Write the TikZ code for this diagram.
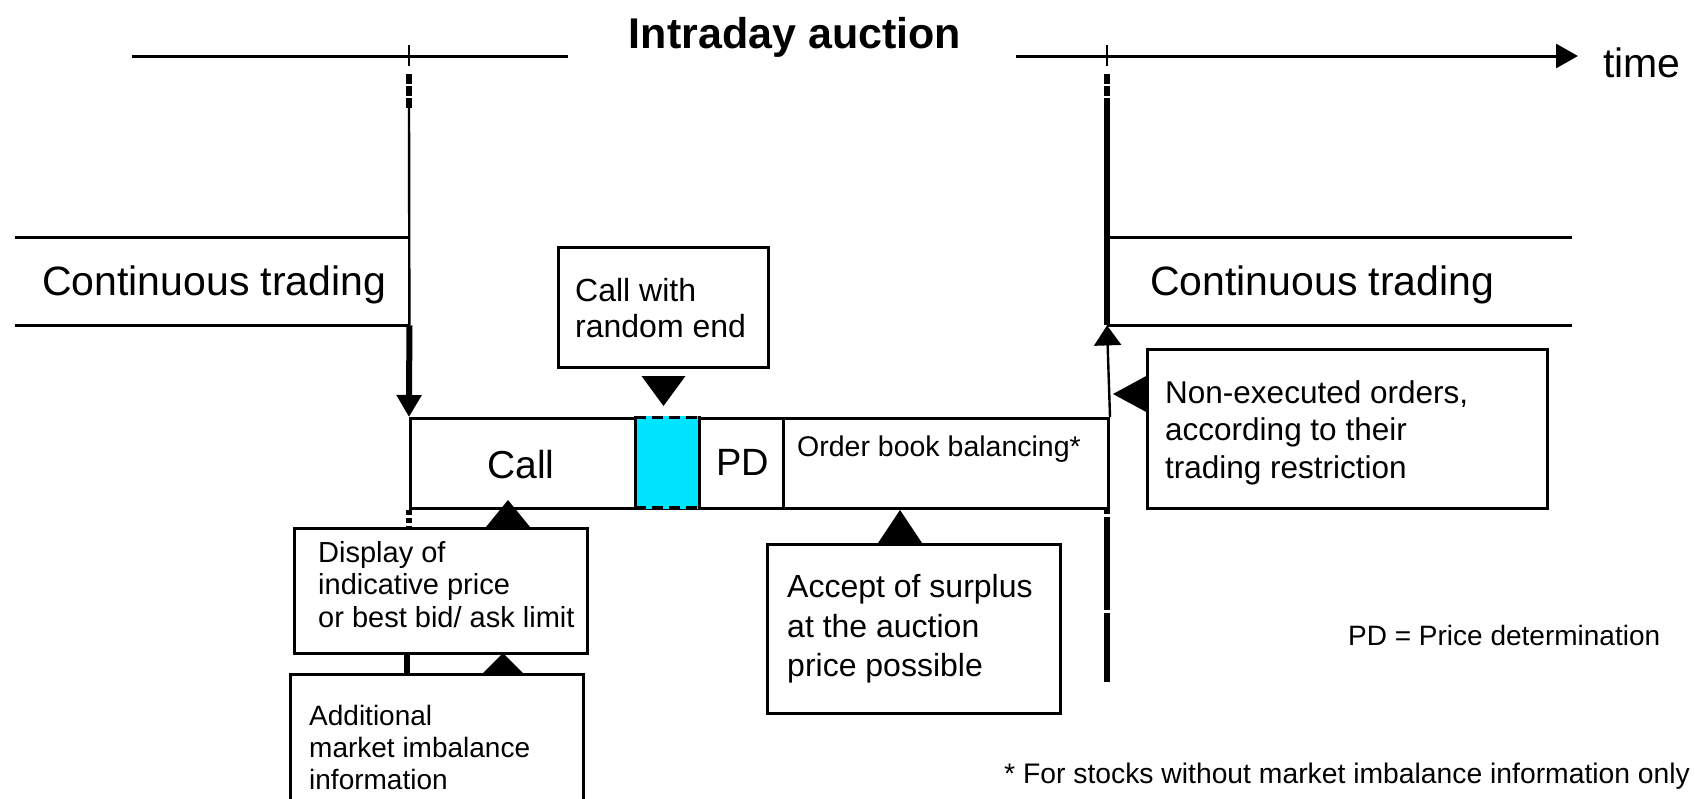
\documentclass[tikz,border=0pt]{standalone}
\usepackage{fontspec}
\setmainfont{Liberation Sans}
\usetikzlibrary{arrows.meta,calc}
\definecolor{auctioncyan}{RGB}{0,229,255}

\begin{document}
\begin{tikzpicture}[x=1pt,y=-1pt,
  frame/.style={draw, line width=3pt, inner sep=0pt, anchor=north west},
  band/.style={inner sep=0pt, anchor=north west, minimum height=88pt},
  txt/.style={inner sep=0pt, anchor=base west},
  blocktxt/.style={inner sep=0pt, anchor=north west, align=left},
  thinrule/.style={line width=2.4pt},
  thickrule/.style={line width=6pt},
  axisline/.style={line width=3pt},
  wedge/.style={fill=black},
]
\useasboundingbox (0,0) rectangle (1695,798);

% time axis and title
\coordinate (axL) at (132,56);
\coordinate (axM) at (568,56);
\coordinate (axR) at (1016,56);
\coordinate (axE) at (1578,56);
\draw[axisline] (axL) -- (axM);
\draw[axisline,-{Triangle[length=22pt,width=24pt]}] (axR) -- (axE);
\node[inner sep=0pt, anchor=base, font=\bfseries\fontsize{43pt}{43pt}\selectfont] (title) at (795,48) {Intraday auction};
\node[txt, font=\fontsize{41pt}{41pt}\selectfont] (time) at (1603,77) {time};

% continuous trading phases
\node[band, minimum width=394pt] (ctL) at (15,237) {};
\node[band, minimum width=465pt] (ctR) at (1107,237) {};
\draw[axisline] (ctL.north west) -- (ctL.north east);
\draw[axisline] (ctL.south west) -- (ctL.south east);
\draw[axisline] (ctR.north west) -- (ctR.north east);
\draw[axisline] (ctR.south west) -- (ctR.south east);
\node[txt, font=\fontsize{41pt}{41pt}\selectfont] (ctLtext) at (42,295) {Continuous trading};
\node[txt, font=\fontsize{41pt}{41pt}\selectfont] (ctRtext) at (1150,295) {Continuous trading};

% auction bar
\node[frame, minimum width=698pt, minimum height=90pt] (bar) at (409,417) {};
\node[fill=auctioncyan, inner sep=0pt, anchor=north west, minimum width=64pt, minimum height=93pt] (rnd) at (635,415.5) {};
\draw[line width=3pt] (rnd.north west) -- (rnd.south west);
\draw[line width=3pt] (rnd.north east) -- (rnd.south east);
\draw[line width=3pt, dash pattern=on 11pt off 6pt] ($(rnd.north west)+(0,1.5)$) -- ($(rnd.north east)+(0,1.5)$);
\draw[line width=3pt, dash pattern=on 11pt off 6pt] ($(rnd.south west)+(0,-1.5)$) -- ($(rnd.south east)+(0,-1.5)$);
\coordinate (pdsplit) at (783,417);
\draw[line width=3pt] (pdsplit) -- (pdsplit |- bar.south);
\node[inner sep=0pt, anchor=base, font=\fontsize{39pt}{39pt}\selectfont] (calltext) at (521,478) {Call};
\node[inner sep=0pt, anchor=base, font=\fontsize{38pt}{38pt}\selectfont] (pdtext) at (743,475) {PD};
\node[txt, font=\fontsize{28.5pt}{28.5pt}\selectfont] (obbtext) at (797,456) {Order book balancing*};

% annotation boxes
\node[frame, minimum width=210pt, minimum height=120pt] (crand) at (557,246) {};
\node[blocktxt, font=\fontsize{32pt}{36pt}\selectfont] (crandtext) at (575,278.6) {Call with\\random end};

\node[frame, minimum width=293pt, minimum height=125pt] (disp) at (293,527) {};
\node[blocktxt, font=\fontsize{29pt}{32.5pt}\selectfont] (disptext) at (318,540.8) {Display of\\indicative price\\or best bid/ ask limit};

\node[frame, minimum width=293pt, minimum height=150pt] (addl) at (289,673) {};
\node[blocktxt, font=\fontsize{28pt}{32pt}\selectfont] (addltext) at (309,704.6) {Additional\\market imbalance\\information};

\node[frame, minimum width=293pt, minimum height=169pt] (acc) at (766,543) {};
\node[blocktxt, font=\fontsize{32pt}{39.5pt}\selectfont] (acctext) at (787,574.6) {Accept of surplus\\at the auction\\price possible};

\node[frame, minimum width=400pt, minimum height=159pt] (nonex) at (1146,348) {};
\node[blocktxt, font=\fontsize{31.5pt}{37.5pt}\selectfont] (nonextext) at (1165,380) {Non-executed orders,\\according to their\\trading restriction};

% legend and footnote
\node[txt, font=\fontsize{28pt}{28pt}\selectfont] (legend) at (1348,645) {PD = Price determination};
\node[txt, font=\fontsize{28.3pt}{28.3pt}\selectfont] (note) at (1004,783) {* For stocks without market imbalance information only};

% pointers onto the auction bar
\fill[wedge] ($(crand.south)+(-22,7)$) -- ($(crand.south)+(22,7)$) -- ($(crand.south)+(0,37)$) -- cycle;
\coordinate (dispPt) at (508,527);
\fill[wedge] ($(dispPt)+(-22,0)$) -- ($(dispPt)+(22,0)$) -- ($(dispPt)+(0,-27)$) -- cycle;
\coordinate (addlPt) at (503,673);
\fill[wedge] ($(addlPt)+(-20,0)$) -- ($(addlPt)+(20,0)$) -- ($(addlPt)+(0,-20)$) -- cycle;
\coordinate (accPt) at (900,543);
\fill[wedge] ($(accPt)+(-22,0)$) -- ($(accPt)+(22,0)$) -- ($(accPt)+(0,-33)$) -- cycle;
\coordinate (nonexPt) at (1148,394);
\fill[wedge] ($(nonexPt)+(0,-19)$) -- ($(nonexPt)+(0,19)$) -- ($(nonexPt)+(-35,0)$) -- cycle;

% start of the auction
\coordinate (lTickT) at (409,45);
\coordinate (lTickB) at (409,66);
\coordinate (lDashT) at (409,74);
\coordinate (lDashB) at (409,108);
\draw[thinrule] (lTickT) -- (lTickB);
\draw[thickrule, dash pattern=on 10pt off 2pt] (lDashT) -- (lDashB);
\draw[thinrule] (lDashB) -- (ctL.south east);
\draw[thickrule, -{Triangle[length=22pt,width=24pt]}] (ctL.south east) -- (bar.north west);
\draw[thickrule, dash pattern=on 5pt off 3pt] (bar.south west) -- (bar.south west |- disp.north);
\coordinate (lLink) at (407,652);
\draw[thickrule] (lLink) -- (lLink |- addl.north);

% end of the auction
\coordinate (rTickT) at (1107,45);
\coordinate (rTickB) at (1107,66);
\coordinate (rDashT) at (1107,74);
\coordinate (rDashB) at (1107,108);
\draw[thinrule] (rTickT) -- (rTickB);
\draw[thickrule, dash pattern=on 10pt off 2pt] (rDashT) -- (rDashB);
\draw[thickrule] (rDashB) -- (ctR.south west);
\draw[thinrule, -{Triangle[length=20pt,width=27pt]}] (bar.north east) -- (ctR.south west);
\coordinate (rLow1) at (1107,509);
\coordinate (rLow2) at (1107,514);
\coordinate (rLow3) at (1107,517);
\coordinate (rLow4) at (1107,610);
\coordinate (rLow5) at (1107,613);
\coordinate (rLow6) at (1107,682);
\draw[thickrule] (rLow1) -- (rLow2);
\draw[thickrule] (rLow3) -- (rLow4);
\draw[thickrule] (rLow5) -- (rLow6);
\end{tikzpicture}
\end{document}
